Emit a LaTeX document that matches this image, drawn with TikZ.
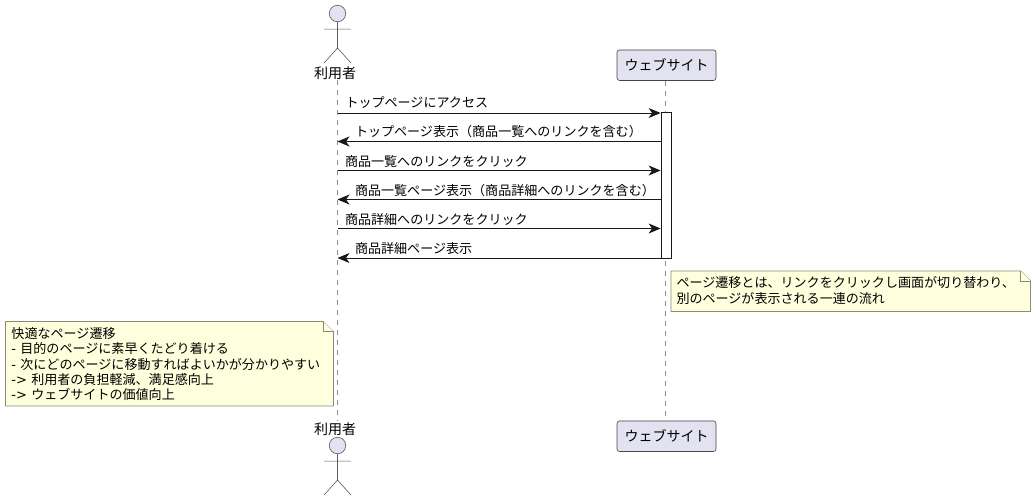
\documentclass[tikz,border=0pt]{standalone}
\usepackage{fontspec}
\setmainfont{Noto Sans CJK JP}
\newfontfamily\latinpart{DejaVu Sans}
\newcommand{\lat}[1]{{\latinpart #1}}
\usetikzlibrary{arrows.meta,calc}
\definecolor{partfill}{HTML}{E2E2F0}
\definecolor{inkc}{HTML}{181818}
\definecolor{notefill}{HTML}{FEFFDD}
\definecolor{noteline}{HTML}{8A8A78}
\tikzset{
  x=1pt,y=-1pt,
  txt/.style={inner sep=0pt,outer sep=0pt,font=\fontsize{13.05}{15.3}\selectfont,text=black},
  big/.style={txt,font=\fontsize{14}{16}\selectfont},
  msg/.style={txt,anchor=base west},
  partbox/.style={big,draw=inkc!80,line width=0.6pt,fill=partfill,rounded corners=2.5pt,minimum width=99pt,minimum height=30.5pt},
  lifeline/.style={draw=inkc!50,line width=0.5pt,dash pattern=on 5pt off 5pt},
  call/.style={draw=inkc,line width=0.9pt,-{Stealth[length=12pt,width=10pt,inset=3.5pt]}},
  activ/.style={draw=inkc,line width=0.8pt,fill=white,inner sep=0pt,minimum width=10pt,minimum height=146pt},
  notep/.style={draw=noteline,line width=0.7pt,fill=notefill,line join=round},
  notet/.style={txt,anchor=north west,align=left},
  stick/.style={draw=inkc!70,line width=0.6pt},
  headc/.style={circle,draw=inkc!70,line width=0.6pt,fill=partfill,inner sep=0pt,minimum size=16.5pt},
}
\newcommand{\stickman}[2]{%
  \node[headc] (head#2) at (#1) {};
  \draw[stick] (head#2.south) -- ++(0,26) coordinate (hip#2)
    (hip#2) -- ++(-13.5,15) (hip#2) -- ++(13.5,15)
    ($(head#2.south)+(-13.5,7)$) -- ++(27,0);
}
\begin{document}
\begin{tikzpicture}
\useasboundingbox (0,0) rectangle (1036,501);
\fill[white] (0,0) rectangle (1036,501);
% lifelines
\coordinate (ut) at (337.5,80);
\coordinate (ub) at (337.5,421);
\coordinate (wt) at (665.5,81);
\coordinate (wb) at (665.5,421);
\draw[lifeline] (ut) -- (ub);
\draw[lifeline] (wt) -- (wb);
% participants
\stickman{337.5,13.5}{t}
\stickman{337.5,445.5}{b}
\node[big] (ulabt) at (335,72.8) {利用者};
\node[big] (ulabb) at (335,428.8) {利用者};
\node[partbox] (webt) at (666.5,65.2) {ウェブサイト};
\node[partbox] (webb) at (666.5,436.2) {ウェブサイト};
% activation
\node[activ] (act) at (666,185.5) {};
% message anchors on the user lifeline
\coordinate (u1) at (337.5,113);
\coordinate (u2) at (337.5,141.5);
\coordinate (u3) at (337.5,170.5);
\coordinate (u4) at (337.5,199.5);
\coordinate (u5) at (337.5,228.5);
\coordinate (u6) at (337.5,258);
\draw[call] (u1) -- (u1 -| act.west);
\draw[call] (u2 -| act.west) -- (u2);
\draw[call] (u3) -- (u3 -| act.west);
\draw[call] (u4 -| act.west) -- (u4);
\draw[call] (u5) -- (u5 -| act.west);
\draw[call] (u6 -| act.west) -- (u6);
\node[msg] (m1) at (345.5,107.3) {トップページにアクセス};
\node[msg] (m2) at (355,136.8) {トップページ表示（商品一覧へのリンクを含む）};
\node[msg] (m3) at (345,166) {商品一覧へのリンクをクリック};
\node[msg] (m4) at (355,195) {商品一覧ページ表示（商品詳細へのリンクを含む）};
\node[msg] (m5) at (345,224) {商品詳細へのリンクをクリック};
\node[msg] (m6) at (355,253.8) {商品詳細ページ表示};
% notes
\draw[notep] (671,271) -- (1020.5,271) -- (1030.5,281) -- (1030.5,311.5) -- (671,311.5) -- cycle;
\draw[notep] (1020.5,271) -- (1020.5,281) -- (1030.5,281);
\node[notet] (n1) at (676.5,276.8) {ページ遷移とは、リンクをクリックし画面が切り替わり、\\別のページが表示される一連の流れ};
\draw[notep] (5.5,321.5) -- (323.5,321.5) -- (333.5,331.5) -- (333.5,406) -- (5.5,406) -- cycle;
\draw[notep] (323.5,321.5) -- (323.5,331.5) -- (333.5,331.5);
\node[notet] (n2) at (11.5,327.5) {快適なページ遷移\\\lat{- }目的のページに素早くたどり着ける\\\lat{- }次にどのページに移動すればよいかが分かりやすい\\\lat{-> }利用者の負担軽減、満足感向上\\\lat{-> }ウェブサイトの価値向上};
\end{tikzpicture}
\end{document}
